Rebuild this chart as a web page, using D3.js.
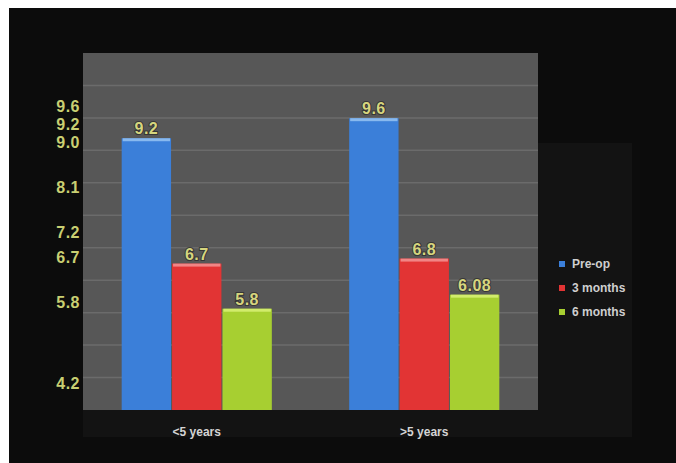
<!DOCTYPE html>
<html>
<head>
<meta charset="utf-8">
<script src="https://cdn.jsdelivr.net/npm/d3@7"></script>
<style>
  html, body { margin: 0; padding: 0; background: #ffffff; }
  svg { display: block; font-family: "Liberation Sans", Arial, sans-serif; }
</style>
</head>
<body>
<div id="wide"></div>
<script>
// Data
const groups = ["<5 years", ">5 years"];
const series = ["Pre-op", "3 months", "6 months"];
const preOp = [9.2, 9.6];
const threeMonths = [6.7, 6.8];
const sixMonths = [5.8, 6.08];
const valueLabels = [["9.2", "6.7", "5.8"], ["9.6", "6.8", "6.08"]];
const yTicks = [9.6, 9.2, 9.0, 8.1, 7.2, 6.7, 5.8, 4.2];

const colors = {"Pre-op": "#3b7fd9", "3 months": "#e23434", "6 months": "#a7cf31"};
const tops = {"Pre-op": "#9cc8f4", "3 months": "#f59a9a", "6 months": "#dcf27a"};

const W = 676, H = 463;
const plot = {left: 83, right: 538, top: 53, bottom: 410};
const yMin = 3.78, yMax = 10.9;

const svg = d3.select("#wide")
    .append("svg")
    .attr("width", W)
    .attr("height", H);

// Black card with white strip at left/top
svg.append("rect").attr("width", W).attr("height", H).attr("fill", "#ffffff");
svg.append("rect")
    .attr("x", 9).attr("y", 8)
    .attr("width", W - 9).attr("height", H - 8)
    .attr("fill", "#0c0c0c");

// Slightly lighter panels: x-label band and legend box
svg.append("rect")
    .attr("x", plot.left).attr("y", plot.bottom)
    .attr("width", 632 - plot.left).attr("height", 27)
    .attr("fill", "#131313");
svg.append("rect")
    .attr("x", plot.right).attr("y", 143)
    .attr("width", 632 - plot.right).attr("height", 294)
    .attr("fill", "#131313");

// Plot area
svg.append("rect")
    .attr("x", plot.left).attr("y", plot.top)
    .attr("width", plot.right - plot.left).attr("height", plot.bottom - plot.top)
    .attr("fill", "#575757");

const x0 = d3.scaleBand()
    .domain(groups)
    .range([plot.left, plot.right])
    .paddingInner(0.34)
    .paddingOuter(0.17);

const x1 = d3.scaleBand()
    .domain(series)
    .range([0, x0.bandwidth()])
    .paddingInner(0.02);

const y = d3.scaleLinear()
    .domain([yMin, yMax])
    .range([plot.bottom, plot.top]);

// Gridlines
svg.append("g")
    .selectAll("line")
    .data(d3.range(1, 11).map(i => yMin + i * (yMax - yMin) / 11))
    .enter().append("line")
    .attr("x1", plot.left).attr("x2", plot.right)
    .attr("y1", d => y(d)).attr("y2", d => y(d))
    .attr("stroke", "#6b6b6b")
    .attr("stroke-width", 1.5);

// Table of bars built from the series arrays
const seriesValues = [preOp, threeMonths, sixMonths];
const rows = [];
groups.forEach((g, gi) => {
    series.forEach((s, si) => {
        rows.push({group: g, series: s, value: seriesValues[si][gi], label: valueLabels[gi][si]});
    });
});

const bars = svg.append("g").attr("class", "bars");

bars.selectAll("rect.bar")
    .data(rows)
    .enter().append("rect")
    .attr("class", "bar")
    .attr("x", d => x0(d.group) + x1(d.series))
    .attr("y", d => y(d.value))
    .attr("width", x1.bandwidth())
    .attr("height", d => y(yMin) - y(d.value))
    .attr("fill", d => colors[d.series]);

// light top edge
bars.selectAll("rect.top")
    .data(rows)
    .enter().append("rect")
    .attr("class", "top")
    .attr("x", d => x0(d.group) + x1(d.series) + 1)
    .attr("y", d => y(d.value))
    .attr("width", x1.bandwidth() - 2)
    .attr("height", 3)
    .attr("fill", d => tops[d.series])
    .attr("opacity", 0.8);

// Value labels
svg.append("g")
    .selectAll("text")
    .data(rows)
    .enter().append("text")
    .attr("x", d => x0(d.group) + x1(d.series) + x1.bandwidth() / 2)
    .attr("y", d => y(d.value) - 4)
    .attr("text-anchor", "middle")
    .attr("font-size", 16)
    .attr("font-weight", "bold")
    .attr("letter-spacing", 0.5)
    .attr("fill", "#d6d57e")
    .attr("stroke", "rgba(40,40,40,0.7)")
    .attr("stroke-width", 2)
    .attr("paint-order", "stroke")
    .text(d => d.label);

// Y axis labels: placed by the scale, then pushed apart so they don't collide
const labelShift = -6, minGap = 18;
const tickPos = yTicks.slice().sort((a, b) => a - b).map(v => ({v: v, y: y(v) + labelShift}));
for (let i = 1; i < tickPos.length; i++) {
    if (tickPos[i].y > tickPos[i - 1].y - minGap) tickPos[i].y = tickPos[i - 1].y - minGap;
}

svg.append("g")
    .selectAll("text")
    .data(tickPos)
    .enter().append("text")
    .attr("x", plot.left - 3)
    .attr("y", d => d.y)
    .attr("dy", "0.35em")
    .attr("text-anchor", "end")
    .attr("font-size", 16)
    .attr("font-weight", "bold")
    .attr("letter-spacing", 0.5)
    .attr("fill", "#c9cf72")
    .text(d => d3.format(".1f")(d.v));

// X axis labels
const xAxis = svg.append("g")
    .attr("transform", "translate(0," + plot.bottom + ")")
    .call(d3.axisBottom(x0).tickSize(0).tickPadding(17));
xAxis.select(".domain").remove();
xAxis.selectAll("text")
    .attr("font-size", 12)
    .attr("font-weight", "bold")
    .attr("font-family", "'Liberation Sans', Arial, sans-serif")
    .attr("fill", "#d4d4d4");

// Legend
const legend = svg.append("g")
    .attr("transform", "translate(559,264)");
const item = legend.selectAll("g")
    .data(series)
    .enter().append("g")
    .attr("transform", (d, i) => "translate(0," + (i * 24) + ")");
item.append("rect")
    .attr("x", 0).attr("y", -3)
    .attr("width", 6).attr("height", 6)
    .attr("fill", d => colors[d]);
item.append("text")
    .attr("x", 13)
    .attr("dy", "0.35em")
    .attr("font-size", 12)
    .attr("font-weight", "bold")
    .attr("fill", "#cfcfcf")
    .text(d => d);
</script>
</body>
</html>
